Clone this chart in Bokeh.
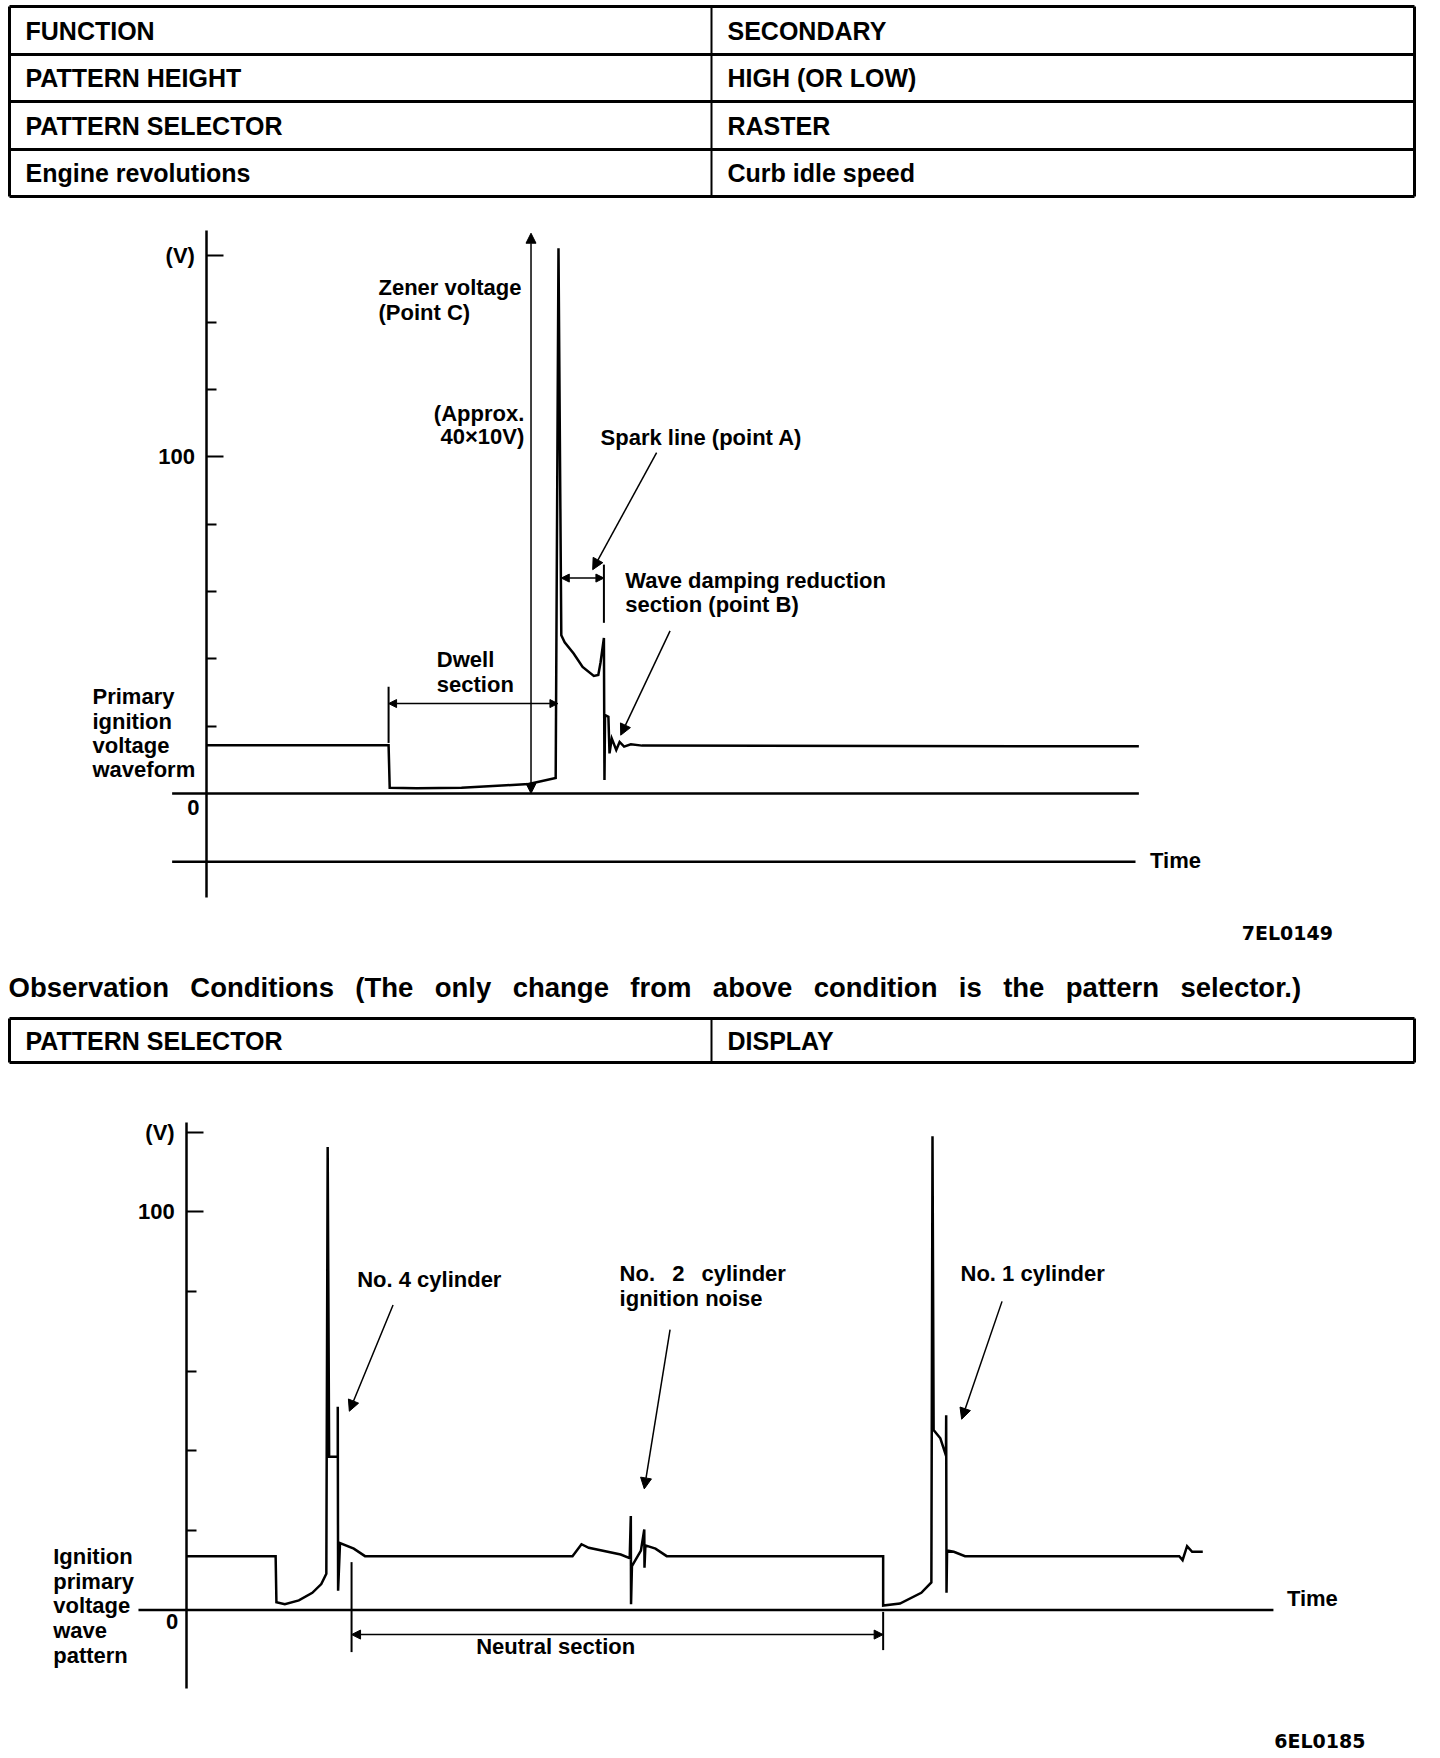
from bokeh.plotting import figure
from bokeh.layouts import column
from bokeh.models import Range1d, LinearAxis, FixedTicker, Arrow, NormalHead
from bokeh.core.properties import value
from bokeh.embed import file_html
from bokeh.resources import INLINE

FONT = "Liberation Sans"
W = 1432
TOTAL_H = 1754

# ---------------- data ----------------
table1_left = ["FUNCTION", "PATTERN HEIGHT", "PATTERN SELECTOR", "Engine revolutions"]
table1_right = ["SECONDARY", "HIGH (OR LOW)", "RASTER", "Curb idle speed"]
heading = "Observation Conditions (The only change from above condition is the pattern selector.)"
table2_left = ["PATTERN SELECTOR"]
table2_right = ["DISPLAY"]
code1 = "7EL0149"
code2 = "6EL0185"

# Raster pattern (time in arbitrary units, voltage in V)
raster_t = [0, 16.2, 16.3, 18.7, 22.7, 26.7, 28.7, 31.1, 31.35, 31.6, 31.9, 32.7, 33.5,
            34.5, 34.9, 35.1, 35.4, 35.45, 35.5, 35.8, 35.9, 36.1, 36.5, 36.8, 37.2, 37.8,
            38.8, 83.1]
raster_v = [14.3, 14.3, 1.7, 1.5, 1.7, 2.4, 2.8, 4.6, 162, 47, 44.9, 41.6, 37.6,
            34.9, 35.2, 38.9, 46.2, 4.0, 23.3, 22.8, 11.9, 16.3, 12.9, 15.3, 13.9, 14.6,
            14.2, 14.0]
raster_major = [100, 160]
raster_minor = [20, 40, 60, 80, 120, 140]
raster_labels = {100: "100", 160: "(V)"}

# Display pattern
display_t = [0, 7.93, 8.0, 8.75, 10.0, 11.2, 12.0, 12.45, 12.57, 12.7, 13.47, 13.47, 13.5,
             13.67, 14.9, 15.9, 34.4, 35.2, 35.85, 38.7, 39.5, 39.6, 39.62, 39.7, 40.5,
             40.8, 40.82, 40.9, 41.8, 42.8, 62.1, 62.1, 63.6, 65.5, 66.4, 66.5, 66.6, 67.2,
             67.7, 67.72, 67.75, 67.8, 68.4, 69.4, 88.5, 88.8, 89.2, 89.65, 90.6]
display_v = [13.5, 13.5, 1.9, 1.4, 2.4, 4.3, 6.5, 9.1, 116.3, 38.5, 38.5, 51, 4.8,
             16.8, 15.4, 13.5, 13.5, 16.5, 15.6, 13.9, 13.0, 23.6, 1.4, 11, 14.9,
             20.2, 10.6, 16.2, 15.4, 13.5, 13.5, 1.1, 1.6, 4.3, 6.9, 119, 45.2, 43.1,
             38.8, 48.9, 4.3, 14.9, 14.6, 13.5, 13.5, 12.5, 16, 14.6, 14.6]
display_major = [100, 120]
display_minor = [20, 40, 60, 80]
display_labels = {100: "100", 120: "(V)"}


# ---------------- helpers ----------------
def make_fig(h, xr, yr):
    p = figure(width=W, height=h, x_range=Range1d(*xr), y_range=Range1d(*yr),
               output_backend="svg", toolbar_location=None,
               x_axis_location=None, y_axis_location=None, min_border=0)
    p.outline_line_color = None
    p.grid.visible = False
    p.background_fill_color = "white"
    p.border_fill_color = "white"
    return p


def txt(p, x, y, s, size="22px", align="left", bold=True, font=FONT):
    p.text(x=[x], y=[y], text=[s], text_font=value(font), text_font_size=size,
           text_align=align, text_baseline="middle", text_color="black",
           text_font_style=("bold" if bold else "normal"))


def seg(p, x0, y0, x1, y1, w=2.5):
    p.segment(x0=[x0], y0=[y0], x1=[x1], y1=[y1], line_color="black", line_width=w)


def arrow(p, x0, y0, x1, y1, both=False, size=10, w=1.5):
    head = lambda: NormalHead(size=size, fill_color="black", line_color="black", line_width=1)
    p.add_layout(Arrow(x_start=x0, y_start=y0, x_end=x1, y_end=y1, end=head(),
                       start=(head() if both else None), line_width=w, line_color="black"))


def table(p, top, bottom_rows, left, right, xl=9, xr=1414, xm=711):
    ys = [top] + bottom_rows
    for y in ys:
        seg(p, xl, y, xr, y, 3)
    for x, w in ((xl, 3), (xm, 2), (xr, 3)):
        seg(p, x, ys[0], x, ys[-1], w)
    cy = [(ys[i] + ys[i + 1]) / 2 for i in range(len(ys) - 1)]
    for xs, labels in ((xl + 16, left), (xm + 16, right)):
        p.text(x=[xs] * len(labels), y=cy, text=labels, text_font=value(FONT),
               text_font_size="25px", text_baseline="middle", text_font_style="bold")


def chart_ranges(fig_top, fig_h, axis_x, px_per_t, zero_y, px_per_v):
    xr = ((0 - axis_x) / px_per_t, (W - axis_x) / px_per_t)
    yr = ((zero_y - (fig_top + fig_h)) / px_per_v, (zero_y - fig_top) / px_per_v)
    return xr, yr


def v_axis(p, bounds, major, minor, labels):
    ax = LinearAxis(fixed_location=0, bounds=bounds,
                    ticker=FixedTicker(ticks=major, minor_ticks=minor),
                    major_label_overrides=labels,
                    axis_line_width=2.5, axis_line_color="black",
                    major_tick_in=17, major_tick_out=0, major_tick_line_width=2,
                    minor_tick_in=10, minor_tick_out=0, minor_tick_line_width=2,
                    major_label_standoff=12, major_label_text_font=FONT,
                    major_label_text_font_style="bold",
                    major_label_text_font_size="22px", major_label_text_color="black")
    p.add_layout(ax, "left")


# ---------------- top table ----------------
H1 = 207
p1 = make_fig(H1, (0, W), (H1, 0))
table(p1, 6, [54, 101, 149, 196], table1_left, table1_right)

# ---------------- raster chart ----------------
H2 = 740
T2 = H1
xr2, yr2 = chart_ranges(T2, H2, 206.4, 11.215, 792.9, 3.3645)
p2 = make_fig(H2, xr2, yr2)
v_axis(p2, (-31, 167.3), raster_major, raster_minor, raster_labels)
p2.line([-3.1, 83.1], [0, 0], line_color="black", line_width=2.5)
p2.line([-3.1, 82.8], [-20.3, -20.3], line_color="black", line_width=2.5)
p2.line(raster_t, raster_v, line_color="black", line_width=2.5, line_join="miter")
txt(p2, -1.2, -4.3, "0", align="center")
txt(p2, 84.1, -20, "Time")
for i, s in enumerate(["Primary", "ignition", "voltage", "waveform"]):
    txt(p2, -10.2, 28.7 - 7.2 * i, s)
# Zener
arrow(p2, 28.9, 0, 28.9, 166.5, both=True)
txt(p2, 15.3, 150.3, "Zener voltage")
txt(p2, 15.3, 143.0, "(Point C)")
txt(p2, 28.3, 113.0, "(Approx.", align="right")
txt(p2, 28.3, 106.0, "40×10V)", align="right")
# Spark line
txt(p2, 35.1, 105.7, "Spark line (point A)")
arrow(p2, 40.1, 101.3, 34.4, 66.5, size=11)
arrow(p2, 31.6, 64, 35.4, 64, both=True, size=8)
seg(p2, 35.4, 68, 35.4, 50.7, 2)
# Wave damping
txt(p2, 37.3, 63.3, "Wave damping reduction")
txt(p2, 37.3, 56.0, "section (point B)")
arrow(p2, 41.3, 48.3, 36.9, 17.3, size=11)
# Dwell
txt(p2, 20.5, 39.7, "Dwell")
txt(p2, 20.5, 32.3, "section")
arrow(p2, 16.2, 26.7, 31.3, 26.7, both=True, size=8)
seg(p2, 16.2, 31.7, 16.2, 15.0, 2)
txt(p2, 100.4, -41.6, code1, size="19px", align="right", font="DejaVu Sans")

# ---------------- heading + second table ----------------
H3 = 135
T3 = T2 + H2
p3 = make_fig(H3, (0, W), (T3 + H3, T3))
txt(p3, 8, 987, heading.replace(" ", "\u2002 "), size="27.5px")
table(p3, 1018, [1062], table2_left, table2_right)

# ---------------- display chart ----------------
T4 = T3 + H3
H4 = TOTAL_H - H1 - H2 - H3
xr4, yr4 = chart_ranges(T4, H4, 186.2, 11.215, 1609.4, 3.981)
p4 = make_fig(H4, xr4, yr4)
v_axis(p4, (-19.7, 122.5), display_major, display_minor, display_labels)
p4.line([-4.3, 96.9], [0, 0], line_color="black", line_width=2.5)
p4.line(display_t, display_v, line_color="black", line_width=2.5, line_join="miter")
txt(p4, -1.3, -2.8, "0", align="center")
txt(p4, 98.1, 2.8, "Time")
for i, s in enumerate(["Ignition", "primary", "voltage", "wave", "pattern"]):
    txt(p4, -11.9, 13.5 - 6.25 * i, s)
txt(p4, 15.2, 83.1, "No. 4 cylinder")
arrow(p4, 18.4, 76.6, 14.5, 49.9, size=11)
txt(p4, 38.6, 84.5, "No.  2  cylinder".replace("  ", "\u2002 "))
txt(p4, 38.6, 78.3, "ignition noise")
arrow(p4, 43.1, 70.4, 40.8, 30.4, size=11)
txt(p4, 69.0, 84.5, "No. 1 cylinder")
arrow(p4, 72.7, 77.5, 69.1, 47.9, size=11)
# neutral section
seg(p4, 14.7, 12.0, 14.7, -10.6, 2)
seg(p4, 62.1, -0.5, 62.1, -10.1, 2)
arrow(p4, 14.7, -6.2, 62.1, -6.2, both=True, size=9)
txt(p4, 32.9, -9.3, "Neutral section", align="center")
txt(p4, 105.1, -33.0, code2, size="19px", align="right", font="DejaVu Sans")

layout = column(p1, p2, p3, p4, spacing=0)
open("out.html", "w").write(file_html(layout, INLINE))
